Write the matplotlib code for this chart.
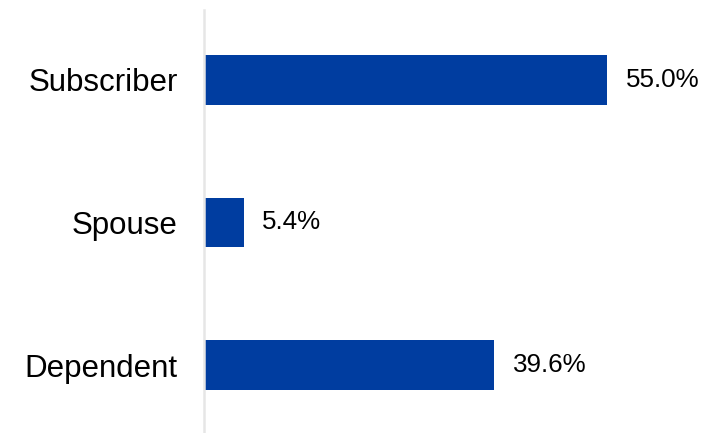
import matplotlib
matplotlib.use("Agg")
import matplotlib.pyplot as plt

categorias = ["Subscriber", "Spouse", "Dependent"]
valores = [55.0, 5.4, 39.6]
etiquetas = ["55.0%", "5.4%", "39.6%"]

plt.rcParams['font.family'] = ['Liberation Sans', 'DejaVu Sans']

fig = plt.figure(figsize=(7.04, 4.33), dpi=100)
ax = fig.add_axes([204/704, 0, 500/704, 423/433])

pos = range(len(categorias))
ax.barh(pos, valores, height=0.35, color="#003DA0")
for p, v, t in zip(pos, valores, etiquetas):
    ax.text(v + 2.5, p, t, va="center", ha="left", fontsize=18.7, color="#000000")

ax.set_yticks(list(pos))
ax.set_yticklabels(categorias, fontsize=22.5)
ax.tick_params(axis="y", length=0, pad=19)
ax.set_xticks([])
ax.set_xlim(0, 68.2)
ax.set_ylim(2.477, -0.491)

for lado in ["top", "right", "bottom"]:
    ax.spines[lado].set_visible(False)
ax.spines["left"].set_color("#e6e6e6")
ax.spines["left"].set_linewidth(1.8)

fig.savefig("out.png", dpi=100)
